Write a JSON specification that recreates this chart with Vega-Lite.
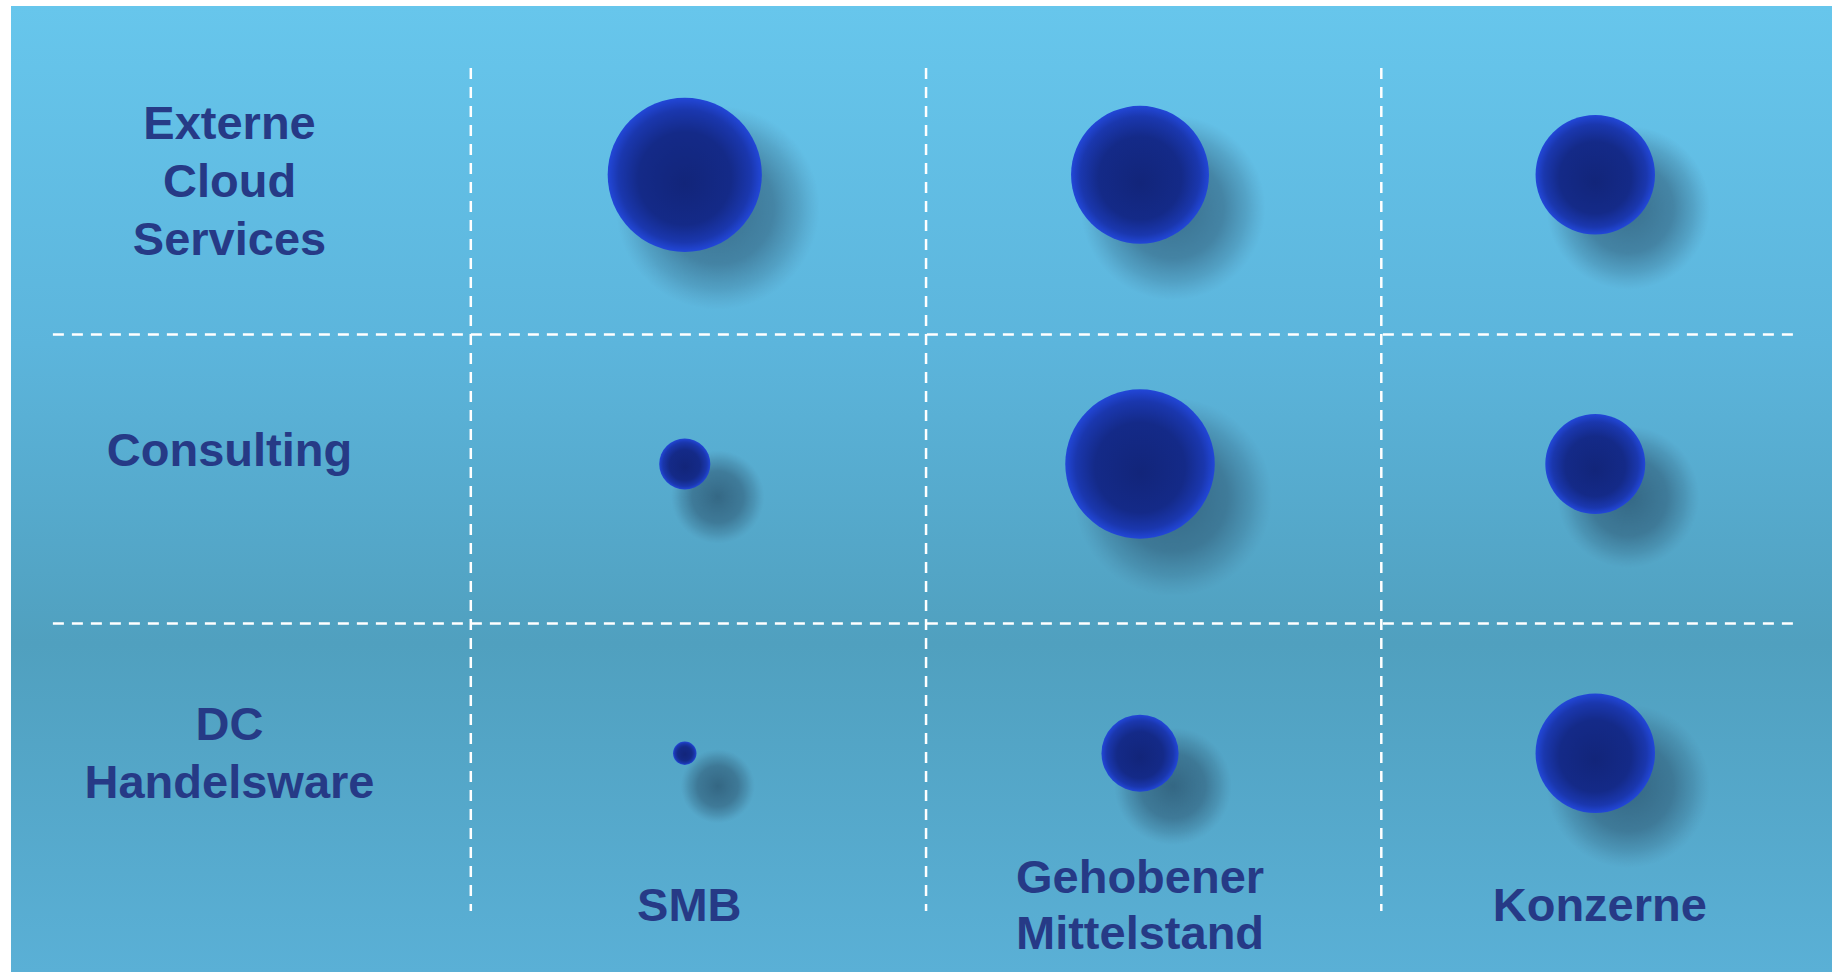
{
  "$schema": "https://vega.github.io/schema/vega-lite/v6.json",
  "width": 1832,
  "height": 972,
  "autosize": {"type": "fit", "contains": "padding"},
  "padding": {"left": 11, "top": 6, "right": 0, "bottom": 0},
  "background": "white",
  "view": {
    "stroke": null,
    "fill": {
      "gradient": "linear", "x1": 0, "y1": 0, "x2": 0, "y2": 1,
      "stops": [
        {"offset": 0, "color": "#67c6ec"},
        {"offset": 0.35, "color": "#5cb5dc"},
        {"offset": 0.66, "color": "#50a0bf"},
        {"offset": 1, "color": "#5ab0d6"}
      ]
    }
  },
  "config": {"axis": {"disable": true}},
  "resolve": {"scale": {"size": "independent"}},
  "encoding": {
    "x": {
      "type": "nominal",
      "scale": {"type": "band", "domain": ["label", "SMB", "Gehobener Mittelstand", "Konzerne"], "paddingInner": 0, "paddingOuter": 0},
      "axis": null
    },
    "y": {
      "type": "nominal",
      "scale": {"type": "band", "domain": ["Externe Cloud Services", "Consulting", "DC Handelsware"], "paddingInner": 0, "paddingOuter": 0.17},
      "axis": null
    }
  },
  "layer": [
    {
      "data": {"values": [{"row": "Consulting"}, {"row": "DC Handelsware"}]},
      "mark": {"type": "rule", "color": "white", "strokeWidth": 2.5, "strokeDash": [11, 8], "yOffset": -10},
      "encoding": {
        "y": {"field": "row", "type": "nominal", "bandPosition": 0},
        "x": {"datum": "label", "type": "nominal", "bandPosition": 0.092},
        "x2": {"datum": "Konzerne", "bandPosition": 0.93}
      }
    },
    {
      "data": {"values": [{"segment": "SMB"}, {"segment": "Gehobener Mittelstand"}, {"segment": "Konzerne"}]},
      "mark": {"type": "rule", "color": "white", "strokeWidth": 2.5, "strokeDash": [11, 8]},
      "encoding": {
        "x": {"field": "segment", "type": "nominal", "bandPosition": 0.01},
        "y": {"datum": "Externe Cloud Services", "type": "nominal", "bandPosition": 0.044},
        "y2": {"datum": "DC Handelsware", "bandPosition": 0.959}
      }
    },
    {
      "data": {"name": "cells"},
      "mark": {
        "type": "circle", "opacity": 1, "xOffset": 33, "yOffset": 8,
        "fill": {
          "gradient": "radial", "x1": 0.5, "y1": 0.5, "r1": 0, "x2": 0.5, "y2": 0.5, "r2": 0.5,
          "stops": [
            {"offset": 0, "color": "rgba(30,60,85,0.6)"},
            {"offset": 0.55, "color": "rgba(35,65,90,0.45)"},
            {"offset": 0.8, "color": "rgba(40,75,100,0.22)"},
            {"offset": 1, "color": "rgba(60,100,130,0)"}
          ]
        }
      },
      "encoding": {
        "x": {"field": "segment", "type": "nominal", "bandPosition": 0.48},
        "y": {"field": "row", "type": "nominal"},
        "size": {"field": "value", "type": "quantitative", "scale": {"domain": [0, 100], "range": [4625, 41616], "zero": false}, "legend": null}
      }
    },
    {
      "data": {"name": "cells"},
      "mark": {
        "type": "circle", "opacity": 1, "yOffset": -25,
        "fill": {
          "gradient": "radial", "x1": 0.5, "y1": 0.56, "r1": 0, "x2": 0.5, "y2": 0.5, "r2": 0.5,
          "stops": [
            {"offset": 0, "color": "#12257a"},
            {"offset": 0.6, "color": "#142a88"},
            {"offset": 0.86, "color": "#1a37ae"},
            {"offset": 1, "color": "#2247d8"}
          ]
        }
      },
      "encoding": {
        "x": {"field": "segment", "type": "nominal", "bandPosition": 0.48},
        "y": {"field": "row", "type": "nominal"},
        "size": {"field": "value", "type": "quantitative", "scale": {"domain": [0, 100], "range": [0, 23778]}, "legend": null}
      }
    },
    {
      "data": {"values": [{"row": "Externe Cloud Services", "label": "Externe\nCloud\nServices"}]},
      "mark": {"type": "text", "font": "Liberation Sans", "fontWeight": "bold", "fontSize": 47, "lineHeight": 58, "color": "#263a86", "align": "center", "baseline": "middle", "lineBreak": "\n", "yOffset": -75},
      "encoding": {
        "x": {"datum": "label", "type": "nominal", "bandPosition": 0.48},
        "y": {"field": "row", "type": "nominal"},
        "text": {"field": "label", "type": "nominal"}
      }
    },
    {
      "data": {"values": [{"row": "Consulting", "label": "Consulting"}]},
      "mark": {"type": "text", "font": "Liberation Sans", "fontWeight": "bold", "fontSize": 47, "lineHeight": 58, "color": "#263a86", "align": "center", "baseline": "middle", "lineBreak": "\n", "yOffset": -37},
      "encoding": {
        "x": {"datum": "label", "type": "nominal", "bandPosition": 0.48},
        "y": {"field": "row", "type": "nominal"},
        "text": {"field": "label", "type": "nominal"}
      }
    },
    {
      "data": {"values": [{"row": "DC Handelsware", "label": "DC\nHandelsware"}]},
      "mark": {"type": "text", "font": "Liberation Sans", "fontWeight": "bold", "fontSize": 47, "lineHeight": 58, "color": "#263a86", "align": "center", "baseline": "middle", "lineBreak": "\n", "yOffset": -52},
      "encoding": {
        "x": {"datum": "label", "type": "nominal", "bandPosition": 0.48},
        "y": {"field": "row", "type": "nominal"},
        "text": {"field": "label", "type": "nominal"}
      }
    },
    {
      "data": {"values": [
        {"segment": "SMB", "name": "SMB"},
        {"segment": "Konzerne", "name": "Konzerne"}
      ]},
      "mark": {"type": "text", "font": "Liberation Sans", "fontWeight": "bold", "fontSize": 47, "lineHeight": 56, "color": "#263a86", "align": "center", "baseline": "middle", "lineBreak": "\n"},
      "encoding": {
        "x": {"field": "segment", "type": "nominal", "bandPosition": 0.49},
        "y": {"datum": "DC Handelsware", "type": "nominal", "bandPosition": 0.945},
        "text": {"field": "name", "type": "nominal"}
      }
    },
    {
      "data": {"values": [
        {"segment": "Gehobener Mittelstand", "name": "Gehobener\nMittelstand"}
      ]},
      "mark": {"type": "text", "font": "Liberation Sans", "fontWeight": "bold", "fontSize": 47, "lineHeight": 56, "color": "#263a86", "align": "center", "baseline": "middle", "lineBreak": "\n", "yOffset": -28},
      "encoding": {
        "x": {"field": "segment", "type": "nominal", "bandPosition": 0.48},
        "y": {"datum": "DC Handelsware", "type": "nominal", "bandPosition": 0.945},
        "text": {"field": "name", "type": "nominal"}
      }
    }
  ],
  "datasets": {
    "cells": [
      {"row": "Externe Cloud Services", "segment": "SMB", "value": 100},
      {"row": "Externe Cloud Services", "segment": "Gehobener Mittelstand", "value": 80},
      {"row": "Externe Cloud Services", "segment": "Konzerne", "value": 60},
      {"row": "Consulting", "segment": "SMB", "value": 11},
      {"row": "Consulting", "segment": "Gehobener Mittelstand", "value": 94},
      {"row": "Consulting", "segment": "Konzerne", "value": 42},
      {"row": "DC Handelsware", "segment": "SMB", "value": 2.3},
      {"row": "DC Handelsware", "segment": "Gehobener Mittelstand", "value": 25},
      {"row": "DC Handelsware", "segment": "Konzerne", "value": 60}
    ]
  }
}
